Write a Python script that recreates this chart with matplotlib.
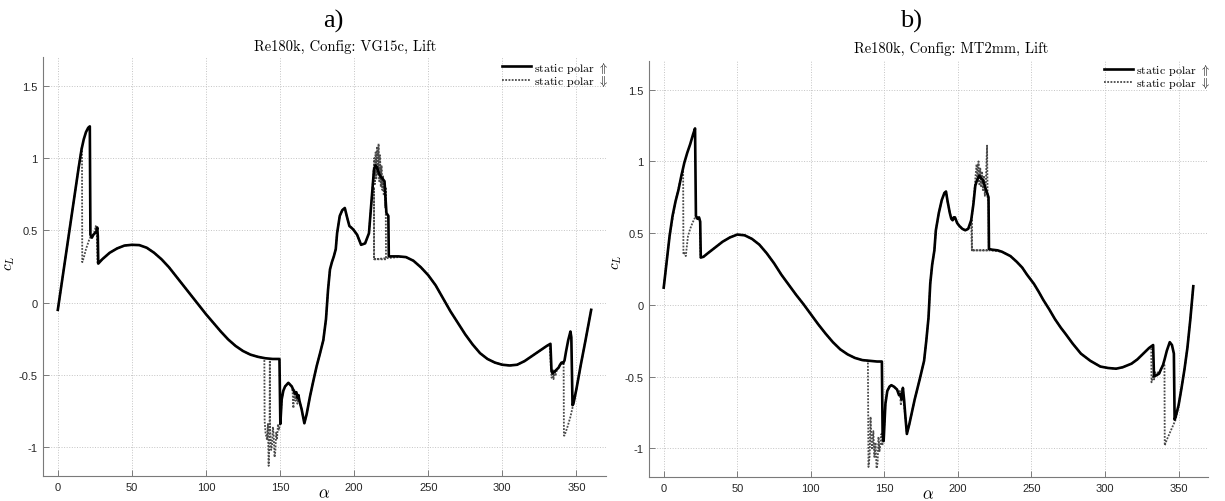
import matplotlib
matplotlib.use('Agg')
import matplotlib.pyplot as plt
from matplotlib.font_manager import FontProperties

plt.rcParams['mathtext.fontset'] = 'cm'
plt.rcParams['axes.unicode_minus'] = False

# ---------------- data ----------------
x_ticks = [0, 50, 100, 150, 200, 250, 300, 350]
x_ticklabels = ['0', '50', '100', '150', '200', '250', '300', '350']
y_ticks = [-1, -0.5, 0, 0.5, 1, 1.5]
y_ticklabels = ['-1', '-0.5', '0', '0.5', '1', '1.5']

panel_letters = ['a)', 'b)']
panel_titles = ['Re180k, Config: VG15c, Lift', 'Re180k, Config: MT2mm, Lift']
legend_labels = [r'static polar $\Uparrow$', r'static polar $\Downarrow$']

# Panel a) VG15c, upsweep (solid)
alpha_vg_up = [0, 2, 4, 6, 8, 10, 12, 14, 16, 17.5, 19, 20.5, 21.6, 22.0, 23, 24, 25, 26, 26.6, 27.0, 27.3,
               30, 35, 40, 45, 50, 55, 60, 65, 70, 75, 80, 85, 90, 95, 100, 105, 110, 115, 120, 125, 130,
               135, 140, 145, 149.6, 150.2, 151.1, 152.2, 153.4, 155.6, 157.9, 160.1, 161.0, 161.7, 162.4,
               163.1, 164.6, 166.4, 168, 170.2, 172.5, 174.7, 177, 179.2, 180.3, 181, 182.4, 183.7, 185,
               186.3, 187.6, 188.5, 190.3, 192, 193.7, 195.5, 196.8, 198, 199.5, 202, 204.7, 207.4, 210,
               211.8, 213.4, 214.3, 215.3, 216.5, 218, 219, 220.5, 221.8, 223.1, 223.4, 225, 230, 235, 240,
               245, 250, 255, 260, 265, 270, 275, 280, 285, 290, 295, 300, 305, 310, 315, 320, 325, 330,
               332.5, 333.2, 334, 335, 336, 337, 338, 339, 340, 341, 342, 343, 344.5, 346, 346.6, 347.4,
               348, 350, 353, 356, 360]
cl_vg_up = [-0.05, 0.09, 0.23, 0.37, 0.51, 0.65, 0.79, 0.93, 1.06, 1.13, 1.18, 1.21, 1.22, 0.47, 0.45, 0.47,
            0.48, 0.49, 0.52, 0.46, 0.27,
            0.30, 0.345, 0.375, 0.395, 0.40, 0.398, 0.38, 0.345, 0.30, 0.245, 0.18, 0.115, 0.05, -0.015,
            -0.08, -0.14, -0.20, -0.255, -0.30, -0.335, -0.36,
            -0.375, -0.385, -0.39, -0.39, -0.84, -0.67, -0.61, -0.58, -0.555, -0.58, -0.63, -0.62, -0.66,
            -0.64, -0.68, -0.74, -0.835, -0.77, -0.65, -0.54, -0.44, -0.35, -0.26, -0.17, -0.115, 0.09,
            0.23, 0.28, 0.32, 0.37, 0.48, 0.60, 0.64, 0.655, 0.58, 0.53, 0.52, 0.505, 0.47, 0.40, 0.41,
            0.48, 0.71, 0.92, 0.95, 0.94, 0.90, 0.87, 0.86, 0.84, 0.62, 0.60, 0.32, 0.32, 0.32, 0.315,
            0.29, 0.245, 0.19, 0.12, 0.03, -0.06, -0.14, -0.22, -0.29, -0.35, -0.39, -0.415, -0.43,
            -0.435, -0.43, -0.405, -0.37, -0.335, -0.30,
            -0.285, -0.47, -0.49, -0.48, -0.47, -0.46, -0.45, -0.43, -0.415, -0.42, -0.40, -0.34, -0.26,
            -0.20, -0.24, -0.71, -0.70, -0.60, -0.43, -0.27, -0.05]

# Panel a) VG15c, downsweep (dotted)
alpha_vg_dn = [0, 4, 8, 12, 14, 16.3, 16.5, 17.5, 19, 21, 22.3, 23, 24, 25, 25.6, 26.3, 26.8,
               30, 35, 40, 45, 50, 55, 60, 65, 70, 75, 80, 85, 90, 95, 100, 105, 110, 115, 120, 125, 130,
               135, 139.4, 139.6, 140.2, 141.2, 141.8, 142.3, 142.9, 143.1, 143.3, 144, 144.6, 145.2, 145.7,
               146.3, 146.8, 147.4, 148, 148.6, 149.2, 150.2, 151.1, 152.2, 153.4, 155.6, 157.9, 158.5,
               159, 159.6, 160.4, 161, 161.7, 162.4, 163.1, 164.6, 166.4, 168, 170.2, 172.5, 174.7, 177,
               179.2, 180.3, 181, 182.4, 183.7, 185, 186.3, 187.6, 188.5, 190.3, 192, 193.7, 195.5, 196.8,
               198, 199.5, 202, 204.7, 207.4, 210, 211.8, 213.0, 213.6, 214.0, 214.5, 215.0, 215.5, 216.0,
               216.5, 217.0, 217.5, 218.0, 218.5, 219.0, 219.5, 220.0, 220.5, 221.0, 221.3, 221.5, 213.4,
               213.4, 213.5, 225, 230, 235, 240,
               245, 250, 255, 260, 265, 270, 275, 280, 285, 290, 295, 300, 305, 310, 315, 320, 325, 330,
               332, 332.8, 333.3, 334, 334.6, 335.2, 336, 337, 338, 339, 340, 341.4, 341.6, 342, 344, 346,
               348, 350, 353, 356, 360]
cl_vg_dn = [-0.05, 0.23, 0.51, 0.79, 0.93, 1.08, 0.28, 0.31, 0.37, 0.43, 0.46, 0.45, 0.47, 0.50, 0.53,
            0.48, 0.27,
            0.30, 0.345, 0.375, 0.395, 0.40, 0.398, 0.38, 0.345, 0.30, 0.245, 0.18, 0.115, 0.05, -0.015,
            -0.08, -0.14, -0.20, -0.255, -0.30, -0.335, -0.36,
            -0.375, -0.385, -0.82, -0.90, -0.95, -0.84, -1.13, -0.92, -0.40, -0.88, -1.02, -0.99, -0.86,
            -0.92, -1.07, -1.03, -0.90, -0.94, -0.84, -0.88, -0.83, -0.67, -0.61, -0.58, -0.555, -0.58,
            -0.62, -0.73, -0.60, -0.68, -0.62, -0.70, -0.64, -0.68, -0.74, -0.835, -0.77, -0.65, -0.54,
            -0.44, -0.35, -0.26, -0.17, -0.115, 0.09, 0.23, 0.28, 0.32, 0.37, 0.48, 0.60, 0.64, 0.655,
            0.58, 0.53, 0.52, 0.505, 0.47, 0.40, 0.41, 0.48, 0.71, 0.88, 1.00, 0.82, 1.04, 0.86, 1.08,
            0.88, 1.10, 0.84, 1.02, 0.80, 0.95, 0.78, 0.88, 0.74, 0.82, 0.66, 0.80, 0.30, 0.30, 0.80,
            0.30, 0.31, 0.315, 0.315, 0.29,
            0.245, 0.19, 0.12, 0.03, -0.06, -0.14, -0.22, -0.29, -0.35, -0.39, -0.415, -0.43, -0.435,
            -0.43, -0.405, -0.37, -0.335, -0.30,
            -0.29, -0.45, -0.52, -0.46, -0.53, -0.47, -0.50, -0.46, -0.45, -0.43, -0.415, -0.42, -0.92,
            -0.92, -0.86, -0.79, -0.70, -0.60, -0.43, -0.27, -0.05]

# Panel b) MT2mm, upsweep (solid)
alpha_mt_up = [0, 2, 4, 6, 8, 10, 12, 14, 16, 18, 20, 21.3, 21.9, 23, 24, 24.8, 25.2, 27, 30, 35, 40, 45,
               50, 55, 60, 65, 70, 75, 80, 85, 90, 95, 100, 105, 110, 115, 120, 125, 130, 135, 140, 145,
               148.3, 148.8, 149.5, 150.7, 152, 153.5, 154.7, 156.5, 158.6, 160, 161, 161.8, 162.6, 163.4,
               164.3, 165.3, 167, 170.6, 174, 177, 178.5, 180, 181.2, 182.5, 184, 185, 187, 189, 190.8,
               191.9, 193, 194.5, 195.5, 196.4, 197.2, 198, 199.5, 201, 203, 205, 207, 209, 210.5, 211.8,
               213, 214.5, 216, 217, 218.5, 219.8, 220.8, 221.1, 223, 227, 230, 235.7, 240, 243.7, 247,
               251.7, 255, 258, 262, 266, 270, 273, 278, 283.6, 290, 296.8, 302, 307.5, 312, 318, 322,
               326, 330, 332.7, 333.3, 335, 336.7, 338, 339.4, 340.5, 342, 344, 345.5, 346.8, 347.3, 348,
               350, 352, 354, 356, 358, 360]
cl_mt_up = [0.12, 0.30, 0.48, 0.62, 0.72, 0.80, 0.90, 0.99, 1.06, 1.12, 1.19, 1.23, 0.62, 0.60, 0.61, 0.58,
            0.33, 0.335, 0.36, 0.40, 0.44, 0.47,
            0.49, 0.485, 0.46, 0.42, 0.36, 0.29, 0.21, 0.14, 0.07, 0.005, -0.065, -0.135, -0.20, -0.26,
            -0.31, -0.345, -0.37, -0.385, -0.39, -0.395,
            -0.395, -0.90, -0.95, -0.69, -0.60, -0.57, -0.56, -0.57, -0.59, -0.63, -0.62, -0.66, -0.58,
            -0.66, -0.78, -0.90, -0.83, -0.66, -0.52, -0.39, -0.25, -0.09, 0.15, 0.28, 0.38, 0.52, 0.64,
            0.73, 0.78, 0.79, 0.72, 0.64, 0.60, 0.59, 0.61, 0.61, 0.57, 0.55, 0.53, 0.52, 0.53, 0.59,
            0.70, 0.83, 0.87, 0.90, 0.88, 0.87, 0.82, 0.78, 0.75, 0.39, 0.385, 0.38, 0.37, 0.34, 0.30,
            0.26, 0.21, 0.146, 0.09, 0.035, -0.03, -0.10, -0.16, -0.20, -0.27, -0.34, -0.39, -0.43,
            -0.44, -0.445, -0.435, -0.41, -0.38, -0.34, -0.30, -0.28, -0.50, -0.49, -0.48, -0.45, -0.42,
            -0.38, -0.32, -0.26, -0.28, -0.34, -0.80, -0.78, -0.70, -0.58, -0.45, -0.30, -0.10, 0.13]

# Panel b) MT2mm, downsweep (dotted)
alpha_mt_dn = [0, 4, 8, 12, 13.2, 13.4, 14, 15, 16.5, 18, 19.5, 21.8, 23, 24, 24.6, 25.0, 27, 30, 35, 40,
               45, 50, 55, 60, 65, 70, 75, 80, 85, 90, 95, 100, 105, 110, 115, 120, 125, 130, 135, 138.8,
               139.2, 140, 140.6, 141.2, 141.8, 142.5, 143.2, 144, 144.7, 145.4, 146, 146.7, 147.3, 148,
               148.6, 149.4, 150.2, 150.7, 152, 153.5, 154.7, 156.5, 158.6, 160, 160.5, 161.2, 162, 162.6,
               163.2, 164.3, 165.3, 167, 170.6, 174, 177, 178.5, 180, 181.2, 182.5, 184, 185, 187, 189,
               190.8, 191.9, 193, 194.5, 195.5, 196.4, 197.2, 198, 199.5, 201, 203, 205, 207, 209, 209.5,
               209.6, 210.5, 211.3, 212, 212.7, 213.3, 214, 214.6, 215.2, 215.8, 216.4, 217, 217.7, 218.3,
               219, 219.8, 220.2, 220.8, 221.0, 209.6, 221.2, 227, 230, 235.7, 240, 243.7, 247,
               251.7, 255, 258, 262, 266, 270, 273, 278, 283.6, 290, 296.8, 302, 307.5, 312, 318, 322,
               326, 330, 331.4, 331.6, 332.5, 333.3, 334.2, 335, 336, 337, 338, 339.4, 340.4, 340.6, 342,
               345, 348, 350, 352, 354, 356, 358, 360]
cl_mt_dn = [0.12, 0.48, 0.72, 0.90, 0.94, 0.35, 0.36, 0.34, 0.48, 0.53, 0.57, 0.62, 0.60, 0.61, 0.58, 0.33,
            0.335, 0.36, 0.40, 0.44,
            0.47, 0.49, 0.485, 0.46, 0.42, 0.36, 0.29, 0.21, 0.14, 0.07, 0.005, -0.065, -0.135, -0.20,
            -0.26, -0.31, -0.345, -0.37, -0.385, -0.39,
            -1.13, -1.05, -0.78, -0.95, -1.01, -0.88, -1.06, -0.96, -1.14, -1.10, -0.92, -1.02, -0.97,
            -0.90, -0.98, -0.92, -0.80, -0.69, -0.60, -0.57, -0.56, -0.57, -0.59, -0.63, -0.60, -0.70,
            -0.62, -0.57, -0.69, -0.78, -0.90, -0.83, -0.66, -0.52, -0.39, -0.25, -0.09, 0.15, 0.28,
            0.38, 0.52, 0.64, 0.73, 0.78, 0.79, 0.72, 0.64, 0.60, 0.59, 0.61, 0.61, 0.57, 0.55, 0.53,
            0.52, 0.53, 0.58, 0.38,
            0.62, 0.72, 0.80, 0.90, 0.98, 0.86, 1.00, 0.84, 0.95, 0.82, 0.93, 0.80, 0.90, 0.76, 0.86,
            1.11, 0.74, 0.72, 0.38, 0.38, 0.38, 0.375, 0.37, 0.34, 0.30, 0.26, 0.21,
            0.146, 0.09, 0.035, -0.03, -0.10, -0.16, -0.20, -0.27, -0.34, -0.39, -0.43, -0.44, -0.445,
            -0.435, -0.41, -0.38, -0.34, -0.30, -0.29, -0.54, -0.50, -0.52, -0.47, -0.50, -0.47, -0.48,
            -0.45, -0.42, -0.42, -0.98, -0.94, -0.87, -0.80, -0.70, -0.58, -0.45, -0.30, -0.10, 0.13]

# ---------------- figure ----------------
W, H = 1225, 502
fig = plt.figure(figsize=(W / 100, H / 100), dpi=100)
fig.patch.set_facecolor('white')


def px_rect(l, t, r, b):
    return [l / W, 1 - b / H, (r - l) / W, (b - t) / H]


ax_a = fig.add_axes(px_rect(43, 58, 606, 477))
ax_b = fig.add_axes(px_rect(649, 62, 1208, 478))

tick_font = FontProperties(family='Liberation Sans', size=8)
leg_font = FontProperties(family='cmr10', size=8.6)
spine_col = '#7a7a7a'


def draw_panel(ax, a_up, c_up, a_dn, c_dn, leg_anchor, ylab_xy, xlab_y):
    l_dn, = ax.plot(a_dn, c_dn, color='#4a4a4a', lw=1.3, ls=(0, (1, 0.8)), zorder=2)
    l_up, = ax.plot(a_up, c_up, color='black', lw=1.9, ls='-', zorder=3)
    ax.set_xlim(-10, 370)
    ax.set_ylim(-1.2, 1.7)
    ax.set_xticks(x_ticks)
    ax.set_xticklabels(x_ticklabels, fontproperties=tick_font)
    ax.set_yticks(y_ticks)
    ax.set_yticklabels(y_ticklabels, fontproperties=tick_font)
    for s in ['top', 'right']:
        ax.spines[s].set_visible(False)
    for s in ['left', 'bottom']:
        ax.spines[s].set_color(spine_col)
        ax.spines[s].set_linewidth(0.8)
    ax.tick_params(direction='in', length=4, width=0.7, color=spine_col,
                   labelcolor='#262626', pad=4)
    ax.grid(True, ls=':', color='#c4c4c4', lw=0.7)
    ax.set_axisbelow(True)
    ax.set_ylabel(r'$c_L$', fontsize=11)
    ax.yaxis.set_label_coords(*ylab_xy)
    ax.set_xlabel(r'$\alpha$', fontsize=12, va='center')
    ax.xaxis.set_label_coords(0.5, xlab_y)
    ax.legend(handles=[l_up, l_dn], labels=legend_labels, loc='upper right',
              bbox_to_anchor=leg_anchor, frameon=False, prop=leg_font,
              handlelength=2.4, handletextpad=0.25, labelspacing=-0.15,
              borderpad=0, borderaxespad=0)


draw_panel(ax_a, alpha_vg_up, cl_vg_up, alpha_vg_dn, cl_vg_dn, (1.003, 0.994), (-0.046, 0.51),
           (477 - 493) / 419)
draw_panel(ax_b, alpha_mt_up, cl_mt_up, alpha_mt_dn, cl_mt_dn, (1.003, 0.997), (-0.045, 0.518),
           (478 - 494) / 416)

# panel letters and titles
fig.text(333 / W, 1 - 28 / H, panel_letters[0], family='Liberation Serif', size=19,
         ha='center', va='baseline')
fig.text(911 / W, 1 - 28 / H, panel_letters[1], family='Liberation Serif', size=19,
         ha='center', va='baseline')
fig.text(345 / W, 1 - 50.5 / H, panel_titles[0], family='cmr10', size=10.5,
         ha='center', va='baseline')
fig.text(951 / W, 1 - 52.5 / H, panel_titles[1], family='cmr10', size=10.5,
         ha='center', va='baseline')

fig.savefig('out.png', dpi=100, facecolor='white')
